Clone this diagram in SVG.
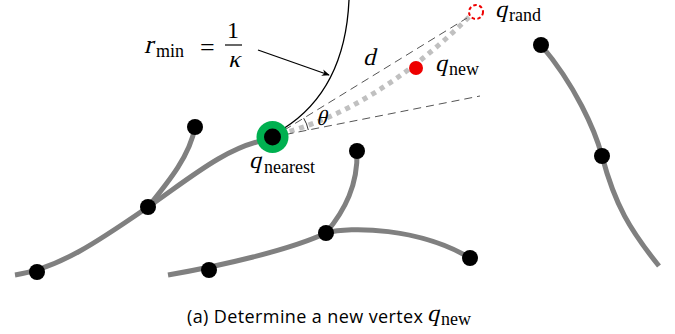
<svg xmlns="http://www.w3.org/2000/svg" width="675" height="334" viewBox="0 0 675 334">
<defs>
<style>
.edge{fill:none;stroke:#808080;stroke-width:5;stroke-linecap:butt}
.node{fill:#000}
.m{font-family:'Liberation Serif','DejaVu Serif',serif;fill:#000}
.cap{font-family:'Open Sans','Liberation Sans',sans-serif;fill:#000}
</style>
<marker id="ah" viewBox="0 0 10 10" refX="9" refY="5" markerWidth="8" markerHeight="8" markerUnits="userSpaceOnUse" orient="auto">
<path d="M0,1 L10,5 L0,9 L3,5 z" fill="#000"/>
</marker>
</defs>
<rect width="675" height="334" fill="#fff"/>
<g id="connectors">
<path class="edge" d="M15 275 C60 268 100 240 148 207 C190 178 225 148 265 140"/>
<path class="edge" d="M148 207 C170 180 190 155 195 127"/>
<path class="edge" d="M168 275 C220 266 290 250 326 233 C350 226 420 228 470 258"/>
<path class="edge" d="M326 233 C345 210 358 185 357 151"/>
<path class="edge" d="M541 45 C575 85 595 130 602 156 C615 205 630 230 659 266"/>
<path d="M280 134 Q375 110 470 16" fill="none" stroke="#c0c0c0" stroke-width="5" stroke-dasharray="5 5"/>
<line x1="273" y1="137" x2="467" y2="18" stroke="#555" stroke-width="1" stroke-dasharray="8 5"/>
<line x1="273" y1="137" x2="480" y2="96" stroke="#555" stroke-width="1" stroke-dasharray="8 5"/>
<path d="M303.7 118.2 A36 36 0 0 1 308.3 130" fill="none" stroke="#333" stroke-width="1"/>
<path d="M283 129 Q345 90 349 0" fill="none" stroke="#000" stroke-width="1.3"/>
<line x1="258" y1="50" x2="329" y2="75" stroke="#000" stroke-width="1.3" marker-end="url(#ah)"/>
</g>
<g id="n_nearest">
<circle cx="272.5" cy="137" r="16" fill="#00b050"/>
<circle class="node" cx="272.5" cy="137" r="8.5"/>
<text class="m" font-size="24" transform="translate(249,168) skewX(-14)">q</text>
<text class="m" font-size="18" x="264" y="173">nearest</text>
</g>
<g id="n1"><circle class="node" cx="195" cy="127" r="8"/></g>
<g id="n2"><circle class="node" cx="148" cy="207" r="8"/></g>
<g id="n3"><circle class="node" cx="37" cy="272" r="8"/></g>
<g id="n4"><circle class="node" cx="209" cy="270" r="8"/></g>
<g id="n5"><circle class="node" cx="326" cy="233" r="8"/></g>
<g id="n6"><circle class="node" cx="357" cy="151" r="8"/></g>
<g id="n7"><circle class="node" cx="470" cy="258" r="8"/></g>
<g id="n8"><circle class="node" cx="541" cy="45" r="8"/></g>
<g id="n9"><circle class="node" cx="602" cy="156" r="8"/></g>
<g id="q_rand">
<circle cx="476" cy="12" r="7" fill="none" stroke="#e00" stroke-width="2" stroke-dasharray="3.5 2.5"/>
<text class="m" font-size="24" transform="translate(495,17) skewX(-14)">q</text>
<text class="m" font-size="18" x="509" y="21">rand</text>
</g>
<g id="q_new">
<circle cx="416" cy="68" r="7" fill="#e00"/>
<text class="m" font-size="24" transform="translate(435,71) skewX(-14)">q</text>
<text class="m" font-size="18" x="449" y="75">new</text>
</g>
<g id="labels">
<text class="m" font-size="24" transform="translate(363,65) skewX(-14)">d</text>
<text class="m" font-size="22" transform="translate(316,125) skewX(-14)">θ</text>
<text class="m" font-size="26" transform="translate(144,53) skewX(-14)">r</text>
<text class="m" font-size="18" x="156" y="57">min</text>
<text class="m" x="200" y="56" font-size="26">=</text>
<text class="m" x="227" y="38" font-size="24">1</text>
<line x1="225" y1="45" x2="242" y2="45" stroke="#000" stroke-width="1.2"/>
<text class="m" font-size="24" transform="translate(228,67) skewX(-14)">κ</text>
</g>
<g id="caption">
<text class="cap" x="187" y="323" font-size="18" textLength="236">(a) Determine a new vertex</text>
<text class="m" font-size="24" transform="translate(427,321) skewX(-14)">q</text>
<text class="m" font-size="18" x="441" y="325">new</text>
</g>
</svg>
